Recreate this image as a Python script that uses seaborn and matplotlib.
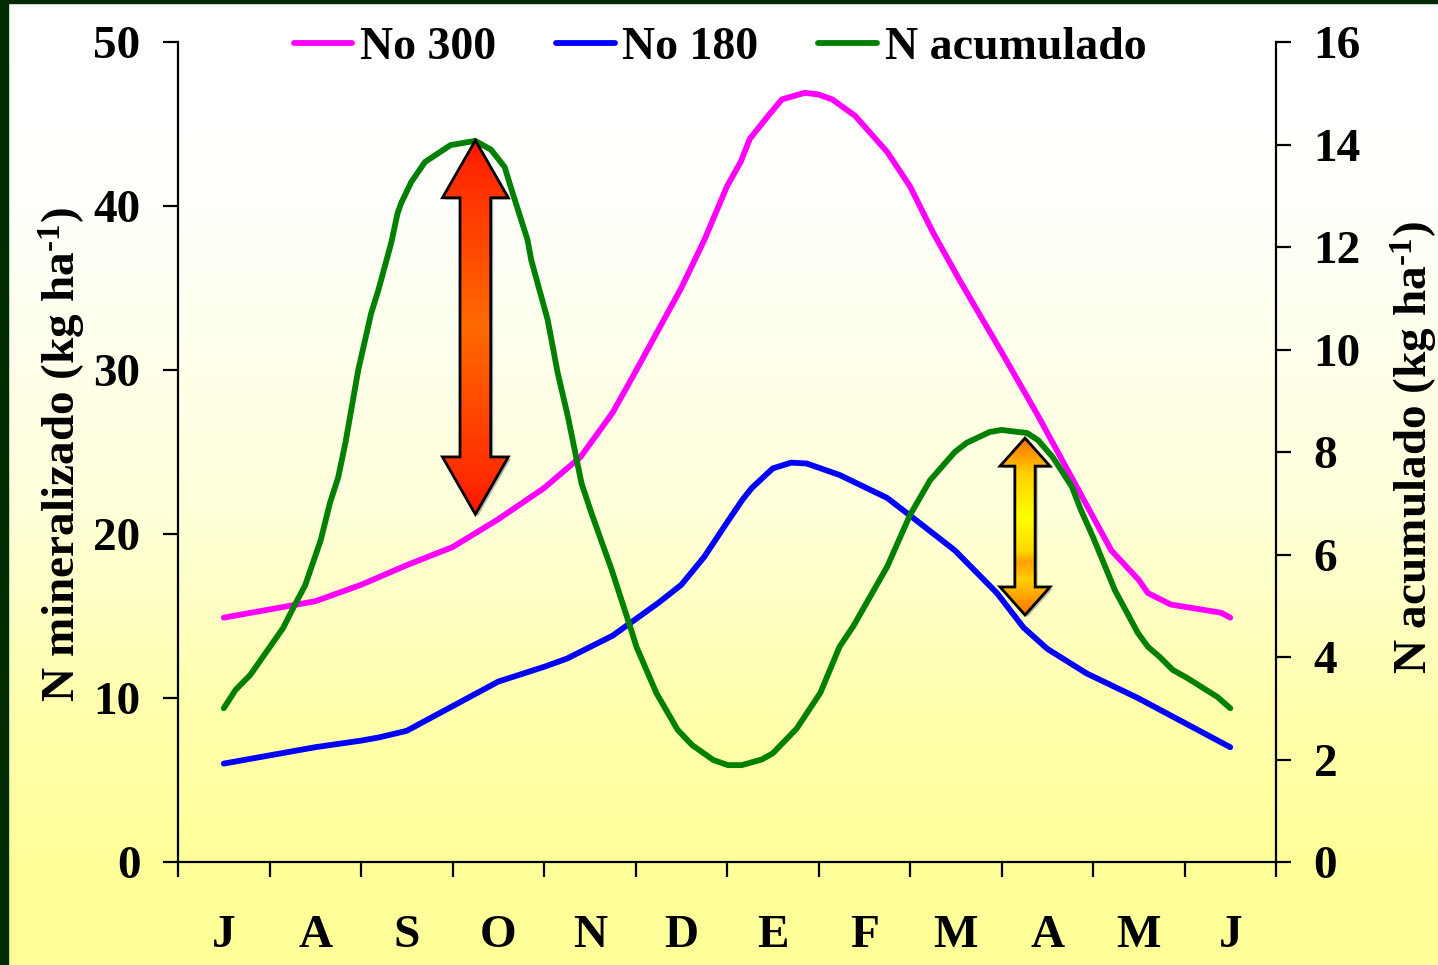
import numpy as np
import matplotlib
matplotlib.use("Agg")
import matplotlib.pyplot as plt
from matplotlib.colors import LinearSegmentedColormap
from matplotlib.patches import Polygon, Rectangle
from matplotlib import transforms
import seaborn as sns

# ---- data -------------------------------------------------------------
months = ["J", "A", "S", "O", "N", "D", "E", "F", "M", "A", "M", "J"]

# N mineralised, 300 kg treatment (left axis, kg ha-1); x in months from July
no300_x = [0.5, 1.0, 1.5, 2.0, 2.5, 3.0, 3.5, 4.0, 4.4, 4.75, 5.0, 5.5, 5.75,
           6.0, 6.15, 6.25, 6.45, 6.6, 6.85, 7.0, 7.15, 7.4, 7.75, 8.0, 8.25,
           8.55, 9.0, 9.4, 9.8, 10.2, 10.5, 10.6, 10.85, 11.4, 11.5]
no300_y = [14.9, 15.4, 15.9, 16.9, 18.1, 19.2, 20.9, 22.8, 24.7, 27.4, 29.9,
           35.0, 37.9, 41.2, 42.7, 44.1, 45.5, 46.5, 46.9, 46.8, 46.5, 45.5,
           43.3, 41.2, 38.4, 35.4, 31.1, 27.2, 23.1, 19.0, 17.2, 16.4, 15.7,
           15.2, 14.9]

# N mineralised, 180 kg treatment (left axis, kg ha-1)
no180_x = [0.5, 1.0, 1.5, 2.0, 2.2, 2.5, 3.0, 3.5, 4.0, 4.25, 4.75, 5.25, 5.5,
           5.75, 6.0, 6.17, 6.27, 6.5, 6.7, 6.87, 7.23, 7.75, 8.03, 8.49, 8.95,
           9.24, 9.5, 9.93, 10.49, 11.5]
no180_y = [6.0, 6.5, 7.0, 7.4, 7.6, 8.0, 9.5, 11.0, 11.9, 12.4, 13.8, 15.8,
           16.9, 18.6, 20.7, 22.1, 22.8, 24.0, 24.35, 24.3, 23.6, 22.2, 21.0,
           19.0, 16.4, 14.3, 13.0, 11.5, 10.0, 7.0]

# N accumulated by the crop (right axis, kg ha-1)
nacum_x = [0.5, 0.63, 0.79, 1.15, 1.26, 1.39, 1.56, 1.66, 1.75, 1.83, 1.97,
           2.11, 2.19, 2.33, 2.40, 2.44, 2.55, 2.70, 2.98, 3.25, 3.42, 3.57,
           3.64, 3.82, 3.86, 4.04, 4.15, 4.26, 4.41, 4.52, 4.74, 4.96, 5.01,
           5.23, 5.46, 5.62, 5.85, 6.01, 6.16, 6.38, 6.5, 6.76, 7.02, 7.23,
           7.38, 7.75, 8.0, 8.22, 8.49, 8.62, 8.87, 9.0, 9.28, 9.4, 9.56, 9.77,
           9.86, 10.0, 10.24, 10.49, 10.6, 10.73, 10.87, 11.03, 11.36, 11.5]
nacum_y = [3.0, 3.36, 3.65, 4.57, 4.96, 5.4, 6.28, 7.0, 7.5, 8.18, 9.6, 10.7,
           11.16, 12.08, 12.66, 12.86, 13.27, 13.66, 13.99, 14.07, 13.9, 13.56,
           13.15, 12.14, 11.75, 10.58, 9.54, 8.7, 7.39, 6.8, 5.7, 4.49, 4.2,
           3.29, 2.58, 2.28, 1.99, 1.89, 1.89, 2.0, 2.12, 2.6, 3.3, 4.2, 4.6,
           5.76, 6.77, 7.45, 8.0, 8.18, 8.39, 8.43, 8.37, 8.23, 7.9, 7.32, 6.9,
           6.34, 5.3, 4.47, 4.2, 4.0, 3.75, 3.59, 3.22, 3.0]

labels = ["No 300", "No 180", "N acumulado"]

# double arrows (left-axis units): centre x, lower tip, upper tip
arrow_red = (3.25, 21.2, 44.0)
arrow_yellow = (9.257, 15.06, 25.85)

# ---- style ------------------------------------------------------------
sns.set_style("ticks")
plt.rcParams["font.family"] = ["Liberation Serif", "DejaVu Serif"]
plt.rcParams["font.weight"] = "bold"
plt.rcParams["text.color"] = "black"
plt.rcParams["axes.labelcolor"] = "black"
plt.rcParams["xtick.color"] = "black"
plt.rcParams["ytick.color"] = "black"
plt.rcParams["axes.edgecolor"] = "black"
plt.rcParams["mathtext.fontset"] = "custom"
plt.rcParams["mathtext.rm"] = "Liberation Serif:bold"
plt.rcParams["mathtext.bf"] = "Liberation Serif:bold"
plt.rcParams["mathtext.default"] = "rm"

W, H = 1438, 965
fig = plt.figure(figsize=(W / 100, H / 100), dpi=100)

# slide background: white fading to pale yellow, dark green frame
bg = fig.add_axes([0, 0, 1, 1], zorder=-10)
bg.set_axis_off()
rows = np.linspace(0, H, 600)
b = np.interp(rows, [0, 200, 500, 700, 850, H], [255, 252, 220, 175, 155, 153]) / 255
img = np.ones((600, 1, 3))
img[:, 0, 2] = b
bg.imshow(img, aspect="auto", extent=[0, 1, 0, 1], origin="upper")
bg.set_xlim(0, 1)
bg.set_ylim(0, 1)
bg.add_patch(Rectangle((0, 0), 8 / W, 1, color="#002A00", transform=bg.transAxes))
bg.add_patch(Rectangle((0, 1 - 3 / H), 1, 3 / H, color="#002A00", transform=bg.transAxes))

ax = fig.add_axes([178 / W, 103 / H, 1098 / W, 820 / H])
ax.set_facecolor("none")

LW = 4.2
sns.lineplot(x=no300_x, y=no300_y, ax=ax, color="#FF00FF", linewidth=LW,
             estimator=None, solid_capstyle="round")
sns.lineplot(x=no180_x, y=no180_y, ax=ax, color="#0000FF", linewidth=LW,
             estimator=None, solid_capstyle="round")
h300, h180 = ax.lines[0], ax.lines[1]

ax2 = ax.twinx()
sns.lineplot(x=nacum_x, y=nacum_y, ax=ax2, color="#008000", linewidth=LW,
             estimator=None, solid_capstyle="round")
hN = ax2.lines[0]
for ln in (h300, h180, hN):
    ln.set_linewidth(LW)
    ln.set_solid_joinstyle("round")
    ln.set_solid_capstyle("round")

ax.set_xlim(0, 12)
ax.set_ylim(0, 50)
ax2.set_ylim(0, 16)
scale = 16 / 50


def gradient_arrow(axis, spec, hw, HW, hl, colors):
    xc, y0, y1 = spec
    y0, y1, hl = y0 * scale, y1 * scale, hl * scale
    pts = [(xc, y1), (xc + HW, y1 - hl), (xc + hw, y1 - hl), (xc + hw, y0 + hl),
           (xc + HW, y0 + hl), (xc, y0), (xc - HW, y0 + hl), (xc - hw, y0 + hl),
           (xc - hw, y1 - hl), (xc - HW, y1 - hl)]
    shadow_tr = transforms.offset_copy(axis.transData, fig=fig, x=2.5, y=-2.0,
                                       units="dots")
    axis.add_patch(Polygon(pts, closed=True, facecolor="#7a7a7a", alpha=0.55,
                           edgecolor="none", transform=shadow_tr, zorder=5))
    cmap = LinearSegmentedColormap.from_list("arrow", colors)
    grad = np.linspace(0, 1, 256).reshape(-1, 1)
    im = axis.imshow(grad, cmap=cmap, aspect="auto", origin="lower",
                     extent=[xc - HW, xc + HW, y0, y1], zorder=6)
    outline = Polygon(pts, closed=True, facecolor="none", edgecolor="black",
                      lw=2.0, zorder=7, joinstyle="miter")
    axis.add_patch(outline)
    im.set_clip_path(outline)


gradient_arrow(ax2, arrow_red, hw=0.168, HW=0.36, hl=3.5,
               colors=[(0.0, "#FF1400"), (0.08, "#FF2A00"), (0.5, "#FF6A00"),
                       (0.92, "#FF2A00"), (1.0, "#FF1400")])
gradient_arrow(ax2, arrow_yellow, hw=0.111, HW=0.273, hl=1.71,
               colors=[(0.0, "#FF7000"), (0.1, "#FFA000"), (0.2, "#FFD000"),
                       (0.3, "#FFA000"), (0.36, "#FFD800"), (0.55, "#FFFF00"),
                       (0.8, "#FFD000"), (0.92, "#FF9500"), (1.0, "#FF7000")])
ax2.set_xlim(0, 12)
ax2.set_ylim(0, 16)

# ---- axes cosmetics ---------------------------------------------------
FS = 34
for s in ["top", "right"]:
    ax.spines[s].set_visible(False)
for s in ["top", "left", "bottom"]:
    ax2.spines[s].set_visible(False)
for sp in [ax.spines["left"], ax.spines["bottom"], ax2.spines["right"]]:
    sp.set_linewidth(1.6)
    sp.set_color("black")

ax.set_xticks(range(13))
ax.set_xticklabels([])
ax.set_xticks(np.arange(12) + 0.5, minor=True)
ax.set_xticklabels(months, minor=True)
ax.tick_params(axis="x", which="major", length=11, width=1.6, direction="out",
               color="black")
ax.tick_params(axis="x", which="minor", length=0, pad=38, labelsize=FS,
               labelcolor="black")

ax.set_yticks(range(0, 51, 10))
ax.tick_params(axis="y", length=11, width=1.6, direction="out", pad=16,
               labelsize=FS, color="black", labelcolor="black")
ax2.set_yticks(range(0, 17, 2))
ax2.tick_params(axis="y", length=11, width=1.6, direction="out", pad=16,
                labelsize=FS, color="black", labelcolor="black")
ax.set_xlabel("")
ax.set_ylabel("")
ax2.set_ylabel("")

fig.text(63 / W, 1 - 455 / H, r"N mineralizado (kg ha$^{\text{-}1}$)",
         rotation=90, ha="center", va="center", fontsize=FS, fontweight="bold",
         color="black")
fig.text(1414 / W, 1 - 448 / H, r"N acumulado (kg ha$^{\text{-}1}$)",
         rotation=90, ha="center", va="center", fontsize=FS, fontweight="bold",
         color="black")

fig.legend([h300, h180, hN], labels, loc="center",
           bbox_to_anchor=(720 / W, 1 - 48 / H), ncol=3, frameon=False,
           handlelength=1.28, handletextpad=0.17, columnspacing=1.3,
           fontsize=33, borderpad=0, borderaxespad=0, labelcolor="black")

fig.savefig("out.png", dpi=100)
